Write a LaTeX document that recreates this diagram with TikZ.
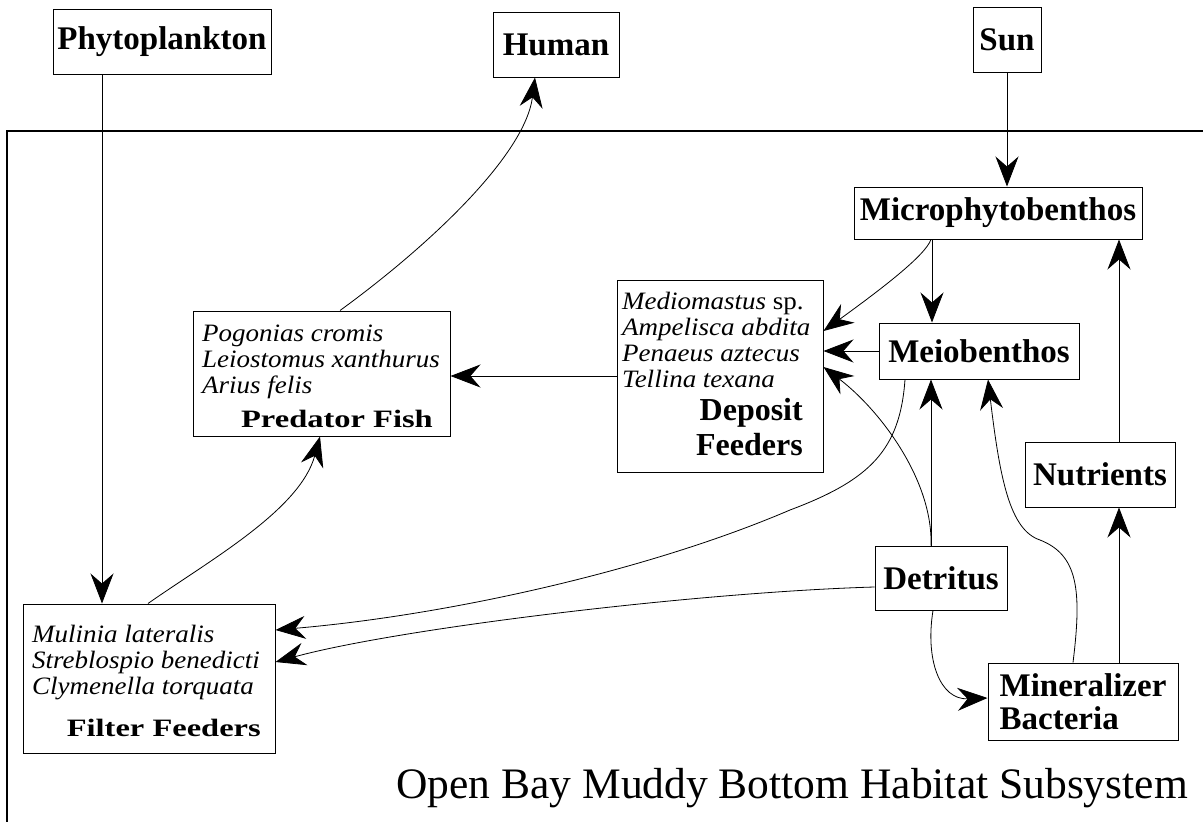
\documentclass[tikz,border=0pt]{standalone}
\usepackage{fontspec}
\setmainfont{Liberation Serif}
\newfontfamily\sppfont[FakeStretch=1.08]{Liberation Serif}
\newfontfamily\grpfont[FakeStretch=1.3]{Liberation Serif}
\usetikzlibrary{arrows.meta}
\begin{document}
\begin{tikzpicture}[x=1pt,y=-1pt,line cap=butt,line join=miter,
		>={Stealth[length=30pt,width=23pt,inset=10pt]}]
			\tikzset{boldtxt/.style={inner sep=0pt,font=\fontsize{33}{33}\selectfont\bfseries},
				box/.style={boldtxt,draw,line width=1pt},
				spp/.style={inner sep=0pt,align=left,font=\sppfont\itshape\fontsize{25}{26}\selectfont},
				grp/.style={inner sep=0pt,font=\grpfont\bfseries\fontsize{25}{25}\selectfont},
				flow/.style={->,line width=.8pt}
			}
			\useasboundingbox (0,0) rectangle (1203,822);
			\draw[line width=1.2pt] (1203,131)--(7,131)--(7,822);
			\node[box,minimum width=218pt,minimum height=65pt] (phyto) at (162,41.5) {Phytoplankton};
			\node[box,minimum width=126pt,minimum height=65pt] (human) at (556,44.5) {Human};
			\node[box,minimum width=68pt,minimum height=65pt] (sun) at (1007,39.5) {Sun};
			\node[box,minimum width=288pt,minimum height=52pt] (micro) at (998,213) {Microphytobenthos};
			\node[box,minimum width=200pt,minimum height=56pt] (meio) at (979,351) {Meiobenthos};
			\node[box,minimum width=150pt,minimum height=65pt] (nutr) at (1100,474.5) {Nutrients};
			\node[box,minimum width=132pt,minimum height=64pt] (detr) at (941,578) {Detritus};
			\node[box,align=left,minimum width=190pt,minimum height=77pt] (miner) at (1083,701.5) {Mineralizer\\Bacteria};
			\node[box,minimum width=206pt,minimum height=192pt] (depo) at (720,376) {};
			\node[spp,anchor=base west] (depospp) at (622,387) {Mediomastus {\upshape sp.}\\Ampelisca abdita\\Penaeus aztecus\\Tellina texana};
			\node[boldtxt,align=right,anchor=base east,font=\fontsize{32}{35}\selectfont\bfseries] (deponame) at (803,455) {Deposit\\Feeders};
			\node[box,minimum width=257pt,minimum height=125pt] (pred) at (321.5,373.5) {};
			\node[spp,anchor=base west] (predspp) at (202,393) {Pogonias cromis\\Leiostomus xanthurus\\Arius felis};
			\node[grp,anchor=base east] (predname) at (433,427) {Predator Fish};
			\node[box,minimum width=252pt,minimum height=149pt] (filt) at (149,678.5) {};
			\node[spp,anchor=base west] (filtspp) at (32,694) {Mulinia lateralis\\Streblospio benedicti\\Clymenella torquata};
			\node[grp,anchor=base east] (filtname) at (261,736) {Filter Feeders};
			\node[anchor=base east,inner sep=0pt,font=\fontsize{43.5}{44}\selectfont] (caption) at (1188,798) {Open Bay Muddy Bottom Habitat Subsystem};
			\draw[flow] (phyto.south -| 102,0) -- (filt.north -| 102,0);
			\draw[flow] (pred.north -| 340,0) .. controls (430,245) and (525,155) .. (human.south -| 535,0);
			\draw[flow] (filt.north -| 148,0) .. controls (210,560) and (300,510) .. (pred.south -| 320,0);
			\draw[flow] (depo.west) -- (pred.east |- depo.west);
			\draw[flow] (sun.south) -- (micro.north -| sun.south);
			\draw[flow] (micro.south -| 932,0) -- (meio.north -| 932,0);
			\draw[flow] (micro.south -| 931,0) .. controls (925,256) and (880,290) .. (depo.east |- 0,331);
			\draw[flow] (meio.west) -- (depo.east |- meio.west);
			\draw[flow] (detr.north -| 931,0) -- (meio.south -| 931,0);
			\draw[flow] (detr.north -| 931,0) .. controls (933,480) and (880,410) .. (depo.east |- 0,367);
			\draw[flow] (meio.south -| 905,0) .. controls (900,450) and (870,480) .. (790,510)
				.. controls (650,570) and (450,615) .. (filt.east |- 0,630);
			\draw[flow] (detr.west |- 0,587) .. controls (700,592) and (400,628) .. (filt.east |- 0,662);
			\draw[flow] (detr.south -| 933,0) .. controls (925,660) and (940,700) .. (miner.west |- 0,698);
			\draw[flow] (miner.north -| 1073,0) .. controls (1082,590) and (1078,555) .. (1040,540)
				.. controls (1010,530) and (1000,480) .. (meio.south -| 988,0);
			\draw[flow] (miner.north -| 1119,0) -- (nutr.south -| 1119,0);
			\draw[flow] (nutr.north -| 1119,0) -- (micro.south -| 1119,0);
		\end{tikzpicture}
\end{document}
